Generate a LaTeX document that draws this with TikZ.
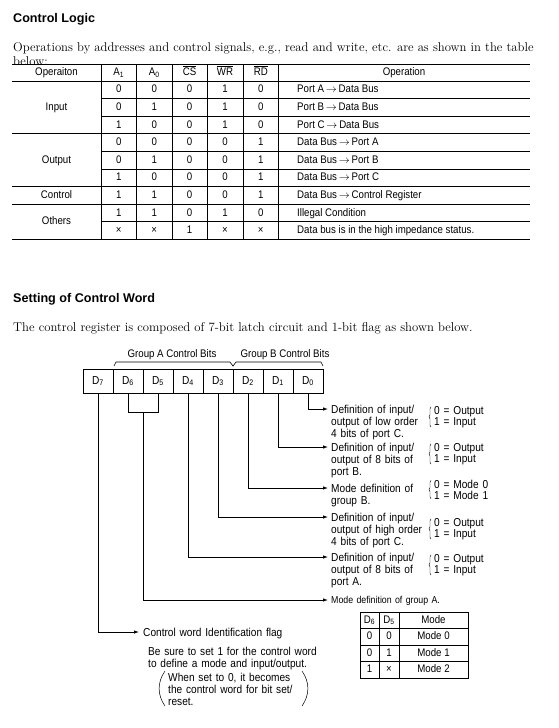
\documentclass[tikz,border=0pt]{standalone}
\usepackage{fontspec}
\newfontfamily\narrowsf[FakeStretch=0.88]{Liberation Sans}
\newfontfamily\headsf{Liberation Sans}
\usetikzlibrary{arrows.meta,positioning,decorations.pathreplacing,calc}
\newcommand\barsig[1]{$\overline{\hbox{#1}}$}
\newcommand\tto{\,$\rightarrow$\,}
\tikzset{
  heading/.style={font=\headsf\bfseries\fontsize{12.6}{14}\selectfont, anchor=base west, inner sep=0},
  bodytext/.style={font=\fontsize{12.7}{14}\selectfont, anchor=base west, inner sep=0},
  cell/.style={font=\narrowsf\fontsize{11}{13}\selectfont, inner sep=0, text height=8pt, text depth=2pt},
  tabline/.style={line width=0.9pt},
  bitcell/.style={draw, line width=0.8pt, minimum width=30pt, minimum height=24pt,
    inner sep=0, font=\narrowsf\fontsize{11.5}{13}\selectfont},
  grouplabel/.style={font=\narrowsf\fontsize{11}{13}\selectfont, inner sep=0},
  groupline/.style={line width=0.6pt},
  deftext/.style={font=\narrowsf\fontsize{11.5}{12}\selectfont, align=left, anchor=base west,
    inner sep=0, text width=110pt},
  valtext/.style={font=\narrowsf\fontsize{11.5}{11.5}\selectfont, align=left, anchor=base west,
    inner sep=0, text width=60pt},
  bitline/.style={line width=0.8pt},
  bitarrow/.style={line width=0.8pt, -{Latex[length=5pt,width=3.5pt]}},
  valbrace/.style={decorate, decoration={brace, amplitude=2pt}, line width=0.45pt},
  parenline/.style={line width=0.5pt}
}

\begin{document}
\begin{tikzpicture}[x=1pt,y=-1pt]
  \useasboundingbox (0,0) rectangle (559,728);

  % control logic
  \node[heading] (title1) at (13,22) {Control Logic};
  \node[bodytext] (intro1) at (13,51) {Operations by addresses and control signals, e.g., read and write, etc. are as shown in the table};
  \node[bodytext] (intro1b) at (13,65) {below:};

  \foreach \y in {64,81,133.8,186.6,204.2,239.4}
    \draw[tabline] (12,\y) -- (530,\y);
  \foreach \y in {98.6,116.2,151.4,169,221.8}
    \draw[tabline] (101,\y) -- (530,\y);
  \foreach \x in {101,136.5,172,207,243,278.5}
    \draw[tabline] (\x,64) -- (\x,239.4);

  \node[cell] (h-op) at (56.5,72.5) {Operaiton};
  \node[cell] (h-a1) at (118.75,72.5) {A\textsubscript{1}};
  \node[cell] (h-a0) at (154.25,72.5) {A\textsubscript{0}};
  \node[cell] (h-cs) at (189.5,72.5) {\barsig{CS}};
  \node[cell] (h-wr) at (225,72.5) {\barsig{WR}};
  \node[cell] (h-rd) at (260.75,72.5) {\barsig{RD}};
  \node[cell] (h-oper) at (404,72.5) {Operation};

  \node[cell] (g-in) at (56.5,107.4) {Input};
  \node[cell] (g-out) at (56.5,160.2) {Output};
  \node[cell] (g-ctl) at (56.5,195.4) {Control};
  \node[cell] (g-oth) at (56.5,221.8) {Others};

  \foreach \r/\p/\q/\s/\w/\d/\op in {
      0/0/0/0/1/0/{Port A\tto Data Bus},
      1/0/1/0/1/0/{Port B\tto Data Bus},
      2/1/0/0/1/0/{Port C\tto Data Bus},
      3/0/0/0/0/1/{Data Bus\tto Port A},
      4/0/1/0/0/1/{Data Bus\tto Port B},
      5/1/0/0/0/1/{Data Bus\tto Port C},
      6/1/1/0/0/1/{Data Bus\tto Control Register},
      7/1/1/0/1/0/{Illegal Condition},
      8/×/×/1/×/×/{Data bus is in the high impedance status.}} {
    \node[cell] (a1-\r) at (118.75,{89.8+17.6*\r}) {\p};
    \node[cell] (a0-\r) at (154.25,{89.8+17.6*\r}) {\q};
    \node[cell] (cs-\r) at (189.5,{89.8+17.6*\r}) {\s};
    \node[cell] (wr-\r) at (225,{89.8+17.6*\r}) {\w};
    \node[cell] (rd-\r) at (260.75,{89.8+17.6*\r}) {\d};
    \node[cell, anchor=west] (op-\r) at (297,{89.8+17.6*\r}) {\op};
  }

  % control word
  \node[heading] (title2) at (13,302) {Setting of Control Word};
  \node[bodytext] (intro2) at (13,331) {The control register is composed of 7-bit latch circuit and 1-bit flag as shown below.};

  \foreach \i in {7,...,0}
    \node[bitcell] (d\i) at ({98+30*(7-\i)},381) {D\textsubscript{\i}};

  \node[grouplabel] (grpA) at (172,355) {Group A Control Bits};
  \node[grouplabel] (grpB) at (285,355) {Group B Control Bits};
  \draw[groupline] (114,366) -- (116,362) -- (230,362) -- (233,366) -- (236,362) -- (321,362) -- (323,366);

  % bit functions
  \coordinate (e0) at (328,409);
  \coordinate (e1) at (328,447);
  \coordinate (e2) at (328,488);
  \coordinate (e3) at (328,517);
  \coordinate (e4) at (328,557);
  \coordinate (eA) at (328,600);
  \coordinate (e7) at (139,632);
  \coordinate (join) at ($(d6.south)!0.5!(d5.south)+(0,19)$);

  \draw[bitarrow] (d0.south) |- (e0);
  \draw[bitarrow] (d1.south) |- (e1);
  \draw[bitarrow] (d2.south) |- (e2);
  \draw[bitarrow] (d3.south) |- (e3);
  \draw[bitarrow] (d4.south) |- (e4);
  \draw[bitline] (d6.south) |- (join) -| (d5.south);
  \draw[bitarrow] (join) |- (eA);
  \draw[bitarrow] (d7.south) |- (e7);

  \node[deftext] (def0) at (331,413) {Definition of input/\\output of low order\\4 bits of port C.};
  \node[deftext] (def1) at (331,451) {Definition of input/\\output of 8 bits of\\port B.};
  \node[deftext] (def2) at (331,492) {Mode definition of\\group B.};
  \node[deftext] (def3) at (331,521) {Definition of input/\\output of high order\\4 bits of port C.};
  \node[deftext] (def4) at (331,561) {Definition of input/\\output of 8 bits of\\port A.};
  \node[deftext, font=\narrowsf\fontsize{10}{12}\selectfont] (defA) at (331,603.5) {Mode definition of group A.};

  \node[valtext] (val0) at (434,414) {0 = Output\\1 = Input};
  \node[valtext] (val1) at (434,451) {0 = Output\\1 = Input};
  \node[valtext] (val2) at (434,488) {0 = Mode 0\\1 = Mode 1};
  \node[valtext] (val3) at (434,526) {0 = Output\\1 = Input};
  \node[valtext] (val4) at (434,562) {0 = Output\\1 = Input};
  \foreach \v in {val0,val1,val2,val3,val4}
    \draw[valbrace] ([xshift=-3pt,yshift=1pt]\v.south west) -- ([xshift=-3pt,yshift=-1pt]\v.north west);

  % flag
  \node[deftext, text width=200pt] (flag) at (143,636) {Control word Identification flag};
  \node[deftext, text width=200pt] (flagnote) at (148,655) {Be sure to set 1 for the control word\\to define a mode and input/output.};
  \node[deftext, text width=140pt] (flagzero) at (168,681) {When set to 0, it becomes\\the control word for bit set/\\reset.};
  \draw[parenline] (165,671) to[bend right=35] (165,706);
  \draw[parenline] (302,671) to[bend left=35] (302,706);

  % group A mode table
  \draw[tabline] (360,612) rectangle (468,678);
  \foreach \y in {628.5,645,661.5}
    \draw[tabline] (360,\y) -- (468,\y);
  \foreach \x in {379,399}
    \draw[tabline] (\x,612) -- (\x,678);
  \node[cell] (m-d6) at (369.5,620.25) {D\textsubscript{6}};
  \node[cell] (m-d5) at (389,620.25) {D\textsubscript{5}};
  \node[cell] (m-mode) at (433.5,620.25) {Mode};
  \foreach \r/\p/\q/\m in {0/0/0/{Mode 0},1/0/1/{Mode 1},2/1/×/{Mode 2}} {
    \node[cell] (m6-\r) at (369.5,{636.75+16.5*\r}) {\p};
    \node[cell] (m5-\r) at (389,{636.75+16.5*\r}) {\q};
    \node[cell] (mm-\r) at (433.5,{636.75+16.5*\r}) {\m};
  }
\end{tikzpicture}
\end{document}
